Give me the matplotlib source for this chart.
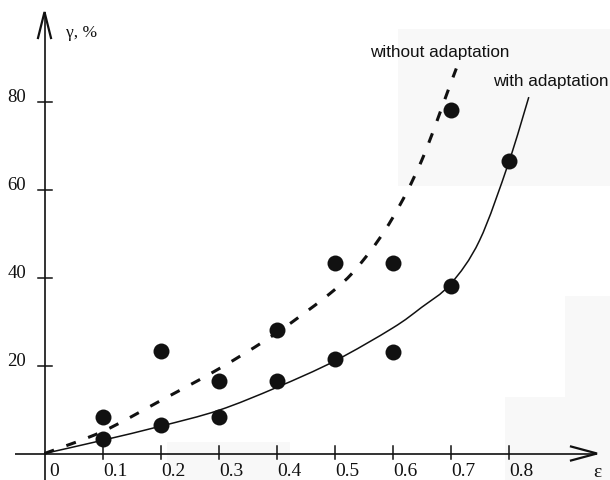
import matplotlib
matplotlib.use("Agg")
import matplotlib.pyplot as plt
from matplotlib.patches import Rectangle, PathPatch
from matplotlib.path import Path

# Measured points
eps_with = [0.1, 0.2, 0.3, 0.4, 0.5, 0.6, 0.7, 0.8]
gamma_with = [3.2, 6.4, 8.2, 16.4, 21.4, 23.0, 38.0, 66.4]

eps_without = [0.1, 0.2, 0.3, 0.4, 0.5, 0.6, 0.7]
gamma_without = [8.4, 23.2, 16.4, 28.0, 43.2, 43.2, 78.0]

# Fitted trend curves (knots of a smooth curve)
curve_eps_with = [0.0, 0.1, 0.2, 0.3, 0.4, 0.5, 0.6, 0.65,
                  0.7, 0.75, 0.8, 0.835]
curve_gamma_with = [0.0, 3.0, 6.2, 9.8, 15.0, 21.0, 28.5, 33.2,
                    38.5, 48.4, 66.0, 81.0]

curve_eps_without = [0.0, 0.1, 0.2, 0.3, 0.4, 0.5,
                     0.55, 0.6, 0.65, 0.7, 0.71]
curve_gamma_without = [0.0, 5.0, 12.0, 19.2, 27.4, 37.2,
                       44.0, 53.5, 66.5, 84.0, 87.5]

x_ticks = [0.1, 0.2, 0.3, 0.4, 0.5, 0.6, 0.7, 0.8]
x_tick_labels = ["0.1", "0.2", "0.3", "0.4", "0.5", "0.6", "0.7", "0.8"]
y_ticks = [20, 40, 60, 80]
y_tick_labels = ["20", "40", "60", "80"]

W, H = 610, 481
X0, Y0 = 44.5, 454.5          # pixel position of the origin
SX, SY = 580.0, 4.4           # pixels per unit epsilon / per percent

fig = plt.figure(figsize=(W / 100, H / 100), dpi=100)
fig.patch.set_facecolor("white")

ax = fig.add_axes([0, 0, 1, 1])
ax.set_xlim(-X0 / SX, (W - X0) / SX)
ax.set_ylim((Y0 - H) / SY, Y0 / SY)
ax.axis("off")

# faint paper tone patches
for (px, py, pw, ph) in [(398, 30, 212, 157), (565, 297, 45, 101),
                         (505, 398, 105, 83), (167, 443, 123, 38)]:
    ax.add_patch(Rectangle((px / W, 1 - (py + ph) / H), pw / W, ph / H,
                           transform=ax.transAxes, facecolor="#f8f8f8",
                           edgecolor="none", zorder=0))


def dx(p):
    return p / SX


def dy(p):
    return p / SY


def smooth_path(xs, ys):
    """Catmull-Rom curve through the knots, as cubic Bezier segments (screen-scaled)."""
    pts = [(x * SX, y * SY) for x, y in zip(xs, ys)]
    verts = [pts[0]]
    codes = [Path.MOVETO]
    n = len(pts)
    for i in range(n - 1):
        p0 = pts[i - 1] if i > 0 else pts[i]
        p1, p2 = pts[i], pts[i + 1]
        p3 = pts[i + 2] if i + 2 < n else pts[i + 1]
        c1 = (p1[0] + (p2[0] - p0[0]) / 6, p1[1] + (p2[1] - p0[1]) / 6)
        c2 = (p2[0] - (p3[0] - p1[0]) / 6, p2[1] - (p3[1] - p1[1]) / 6)
        verts += [c1, c2, p2]
        codes += [Path.CURVE4] * 3
    verts = [(vx / SX, vy / SY) for vx, vy in verts]
    return Path(verts, codes)


ink = "#111111"
serif = "Liberation Serif"
sans = "Liberation Sans"

# axes with open arrow heads
ax.plot([dx(15 - X0), dx(597 - X0)], [0, 0], color=ink, lw=1.2, solid_capstyle="butt", zorder=2)
ax.plot([dx(571 - X0), dx(597 - X0), dx(571 - X0)], [dy(7), 0, dy(-7)],
        color=ink, lw=1.6, solid_joinstyle="miter", zorder=2)
ax.plot([0, 0], [dy(Y0 - H), dy(Y0 - 13)], color=ink, lw=1.2, solid_capstyle="butt", zorder=2)
ax.plot([dx(-6.5), 0, dx(6.5)], [dy(Y0 - 39), dy(Y0 - 13), dy(Y0 - 39)],
        color=ink, lw=1.6, solid_joinstyle="miter", zorder=2)

# ticks and tick labels
for t, lab in zip(x_ticks, x_tick_labels):
    ax.plot([t, t], [dy(-5), dy(8)], color=ink, lw=1.1, zorder=2)
    ax.text(t + dx(0.5), dy(-17), lab, fontsize=14, family=serif,
            ha="left", va="center", color=ink, zorder=3)
ax.text(dx(5), dy(-17), "0", fontsize=14, family=serif, ha="left", va="center", color=ink)
ax.text(dx(597 - X0), dy(-18), "ε", fontsize=14, family=serif, ha="center",
        va="center", color=ink)

for t, lab in zip(y_ticks, y_tick_labels):
    ax.plot([dx(-6.5), dx(7.5)], [t, t], color=ink, lw=1.1, zorder=2)
    ax.text(dx(26 - X0), t + dy(5), lab, fontsize=13.5, family=serif,
            ha="right", va="center", color=ink)

ax.text(dx(66 - X0), dy(Y0 - 33), "γ, %", fontsize=12.5, family=serif,
        ha="left", va="center", color=ink)

# trend curves
ax.add_patch(PathPatch(smooth_path(curve_eps_without, curve_gamma_without),
                       facecolor="none", edgecolor=ink, lw=2.2,
                       linestyle=(0, (3.3, 4.3)), capstyle="butt", zorder=3))
ax.add_patch(PathPatch(smooth_path(curve_eps_with, curve_gamma_with),
                       facecolor="none", edgecolor=ink, lw=1.1, zorder=3))

# measured points
ax.plot(eps_without, gamma_without, "o", color=ink, markersize=11.5,
        markeredgewidth=0, zorder=4)
ax.plot(eps_with, gamma_with, "o", color=ink, markersize=11.5,
        markeredgewidth=0, zorder=4)

# curve labels
ax.text(dx(370 - X0), dy(Y0 - 53), "without adaptation", fontsize=12.3, family=sans,
        ha="left", va="center", color=ink, zorder=5)
ax.text(dx(493 - X0), dy(Y0 - 82), "with adaptation", fontsize=12.3, family=sans,
        ha="left", va="center", color=ink, zorder=5)

fig.savefig("out.png", dpi=100)
